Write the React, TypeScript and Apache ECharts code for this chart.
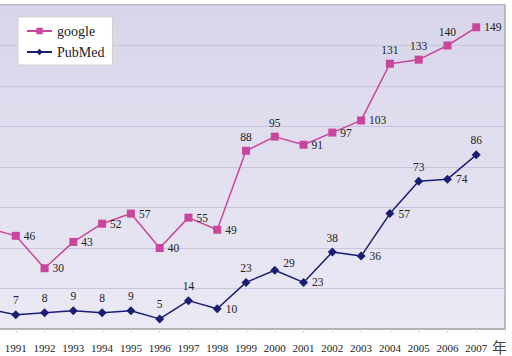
import React, { useEffect, useRef } from 'react';
import * as echarts from 'echarts';

const years = ['1990', '1991', '1992', '1993', '1994', '1995', '1996', '1997', '1998', '1999', '2000', '2001', '2002', '2003', '2004', '2005', '2006', '2007', ''];
const googleValues = [50, 46, 30, 43, 52, 57, 40, 55, 49, 88, 95, 91, 97, 103, 131, 133, 140, 149];
const pubmedValues = [10, 7, 8, 9, 8, 9, 5, 14, 10, 23, 29, 23, 38, 36, 57, 73, 74, 86];
const axisUnit = '年';

// label placement (style)
const googleLabelPos = ['none', 'right', 'right', 'right', 'right', 'right', 'right', 'right', 'right', 'top', 'top', 'right', 'right', 'right', 'top', 'top', 'top', 'right'];
const pubmedLabelPos = ['none', 'top', 'top', 'top', 'top', 'top', 'top', 'top', 'right', 'top', 'topRight', 'right', 'top', 'right', 'right', 'top', 'right', 'top'];

const FONT = "'Liberation Serif', 'DejaVu Serif', serif";

function buildData(values: number[], positions: string[]) {
  return values.map((v, i) => {
    const p = positions[i];
    if (p === 'none') return { value: v, label: { show: false } };
    if (p === 'topRight') return { value: v, label: { show: true, position: 'right', offset: [0, -7] } };
    return { value: v, label: { show: true, position: p } };
  });
}

export default function App() {
  const ref = useRef<HTMLDivElement>(null);
  useEffect(() => {
    if (!ref.current) return;
    const chart = echarts.init(ref.current, undefined, { renderer: 'svg' });
    const labelStyle = { fontFamily: FONT, fontSize: 11.5, color: '#222', distance: 4 };
    chart.setOption({
      animation: false,
      textStyle: { fontFamily: FONT },
      grid: {
        left: 27,
        right: 7,
        top: 5,
        bottom: 27,
        show: true,
        borderColor: '#a8a8a8',
        borderWidth: 1.5,
        backgroundColor: new echarts.graphic.LinearGradient(0, 0, 0, 1, [
          { offset: 0, color: '#d8d5ea' },
          { offset: 1, color: '#ebe9f4' },
        ]),
      },
      legend: {
        orient: 'vertical',
        left: 58,
        top: 17,
        padding: [7, 8, 6, 8],
        backgroundColor: '#ffffff',
        borderColor: '#d0d0d0',
        borderWidth: 1,
        itemWidth: 25,
        itemHeight: 8,
        itemGap: 7,
        textStyle: { fontFamily: FONT, fontSize: 14, color: '#222' },
        data: ['google', 'PubMed'],
      },
      xAxis: {
        type: 'category',
        data: years,
        boundaryGap: false,
        axisLine: { lineStyle: { color: '#b0b0b0', width: 1.5 } },
        axisTick: { show: true, length: 4, lineStyle: { color: '#d8d8d8' } },
        axisLabel: {
          fontFamily: FONT,
          fontSize: 11,
          color: '#222',
          margin: 13,
          interval: (index: number) => index !== 0,
        },
        splitLine: { show: false },
      },
      yAxis: {
        type: 'value',
        min: 0,
        max: 160,
        interval: 20,
        axisLine: { show: false },
        axisTick: { show: false },
        axisLabel: { show: false },
        splitLine: { lineStyle: { color: '#c9c5df', width: 1 } },
      },
      graphic: [
        {
          type: 'text',
          x: 532,
          y: 339,
          style: { text: axisUnit, fontFamily: "'Noto Sans CJK TC', sans-serif", fontSize: 15, fill: '#444' },
        },
      ],
      series: [
        {
          name: 'google',
          type: 'line',
          data: buildData(googleValues, googleLabelPos),
          symbol: 'rect',
          symbolSize: 8,
          itemStyle: { color: '#c8469c' },
          lineStyle: { color: '#c8469c', width: 1.5 },
          label: { ...labelStyle },
        },
        {
          name: 'PubMed',
          type: 'line',
          data: buildData(pubmedValues, pubmedLabelPos),
          symbol: 'diamond',
          symbolSize: 9,
          itemStyle: { color: '#1b1f72' },
          lineStyle: { color: '#1b1f72', width: 1.5 },
          label: { ...labelStyle },
        },
      ],
    });
    return () => chart.dispose();
  }, []);
  return (
    <div
      ref={ref}
      style={{ position: 'absolute', left: -40, top: 0, width: 552, height: 356 }}
    />
  );
}
